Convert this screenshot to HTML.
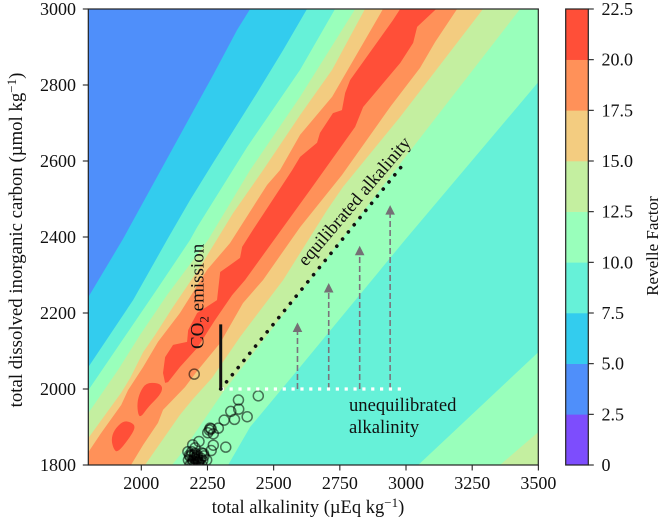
<!DOCTYPE html>
<html>
<head>
<meta charset="utf-8">
<title>Revelle Factor contour chart</title>
<style>
html,body{margin:0;padding:0;background:#fff;}
body{width:663px;height:517px;overflow:hidden;}
svg{display:block;}
text{font-family:"Liberation Serif",serif;fill:#111;}
</style>
</head>
<body>
<svg id="chart" xmlns="http://www.w3.org/2000/svg" width="663" height="517" viewBox="0 0 663 517">
  <defs>
    <clipPath id="plot-clip"><rect x="88.3" y="9" width="450" height="456"></rect></clipPath>
  </defs>
  <g id="contours" clip-path="url(#plot-clip)"></g>
  <g id="points" clip-path="url(#plot-clip)"></g>
  <g id="annotations"></g>
  <rect x="88.3" y="9" width="450" height="456" fill="none" stroke="#222" stroke-width="1.2"></rect>
  <g id="x-ticks"></g>
  <g id="y-ticks"></g>
  <g id="colorbar"></g>
  <text x="308" y="513" font-size="18.5" text-anchor="middle">total alkalinity (µEq kg<tspan dy="-6" font-size="13">−1</tspan><tspan dy="6">)</tspan></text>
  <text transform="translate(22,240) rotate(-90)" font-size="18.8" text-anchor="middle">total dissolved inorganic carbon (µmol kg<tspan dy="-6" font-size="13">−1</tspan><tspan dy="6">)</tspan></text>
  <text transform="translate(658,246) rotate(-90)" font-size="17" text-anchor="middle">Revelle Factor</text>
  <text transform="translate(203.5,349) rotate(-90)" font-size="19">CO<tspan dy="5" font-size="13">2</tspan><tspan dy="-5"> emission</tspan></text>
  <text transform="translate(306,267) rotate(-49.5)" font-size="18.5" id="eq-label">equilibrated alkalinity</text>
  <text font-size="18.6"><tspan x="349" y="411">unequilibrated</tspan><tspan x="349" y="433">alkalinity</tspan></text>
</svg>
<script>
// ---- chart data (total alkalinity, dissolved inorganic carbon) ----
var xTickLabels = [2000, 2250, 2500, 2750, 3000, 3250, 3500];
var yTickLabels = [1800, 2000, 2200, 2400, 2600, 2800, 3000];
var colorbarLevels = [0, 2.5, 5, 7.5, 10, 12.5, 15, 17.5, 20, 22.5];
var colorbarLabels = ["0", "2.5", "5.0", "7.5", "10.0", "12.5", "15.0", "17.5", "20.0", "22.5"];

// Contour boundaries, rising side of the ridge
var edge2p5to5 = [[2411,3000],[2362,2945],[2271,2826],[2184,2716],[1931,2395],[1800,2242],[1800,1800]];
var edge5to7p5 = [[2626,3000],[2536,2892],[2437,2779],[2271,2595],[2184,2497],[2101,2397],[1969,2234],[1800,2058],[1800,1800]];
var edge7p5to10 = [[2732,3000],[2600,2840],[2400,2637],[2211,2426],[2184,2392],[2060,2263],[1800,1997],[1800,1800]];
var edge10to12p5 = [[2808,3000],[2600,2769],[2411,2576],[2252,2392],[2097,2247],[1995,2142],[1912,2050],[1800,1937],[1800,1800]];
var edge12p5to15 = [[2845,3000],[2721,2840],[2600,2721],[2460,2576],[2347,2463],[2222,2321],[2120,2216],[2052,2142],[2007,2097],[1958,2029],[1924,1990],[1800,1871],[1800,1800]];
var edge15to17p5 = [[2913,3000],[2721,2769],[2600,2669],[2524,2576],[2475,2537],[2335,2384],[2248,2313],[2146,2200],[2063,2124],[2007,2058],[1950,1997],[1924,1958],[1848,1884],[1800,1834],[1800,1800]];

// Peak regions above 20
var peakMain = [[2978,3000],[2951,2971],[2789,2813],[2770,2779],[2758,2734],[2724,2726],[2675,2674],[2664,2648],[2600,2611],[2570,2576],[2422,2419],[2381,2374],[2373,2345],[2335,2326],[2298,2308],[2286,2234],[2211,2200],[2177,2155],[2173,2124],[2120,2116],[2090,2084],[2082,2042],[2090,2016],[2101,2018],[2146,2058],[2211,2108],[2279,2182],[2343,2247],[2392,2287],[2638,2524],[2808,2690],[2838,2742],[2978,2858],[3027,2911],[3042,2953],[3114,3000]];
var peakMiddle = [[1988,1932],[1984,1963],[1995,1992],[2018,2016],[2063,2016],[2082,2005],[2071,1984],[2026,1953],[1999,1926]];
var peakLow = [[1886,1866],[1897,1892],[1931,1916],[1961,1913],[1980,1900],[1950,1866],[1912,1834],[1897,1839]];

// Contour boundaries, falling side of the ridge
var edge20to17p5 = [[3193,3000],[3110,2913],[3053,2845],[2940,2742],[2758,2563],[2600,2426],[2460,2287],[2384,2226],[2298,2121],[2214,2050],[2165,2005],[2082,1945],[2063,1911],[2007,1853],[1961,1800]];
var edge17p5to15 = [[3291,3000],[2978,2716],[2762,2532],[2702,2471],[2638,2400],[2536,2287],[2373,2137],[2267,2029],[2192,1971],[2146,1932],[2014,1800]];
var edge15to12p5 = [[3431,3000],[3027,2637],[2309,1992],[2146,1826],[2116,1800]];
var edge12p5to10 = [[3500,2808],[2996,2392],[2600,2058],[2411,1900],[2328,1800]];
var edge10to12p5Low = [[3500,2097],[3046,1800]];
var edge12p5to15Low = [[3500,1887],[3355,1800]];

// Observations
var obsAlkalinity = [2200,2442,2367,2368,2338,2400,2352,2313,2291,2260,2257,2264,2251,2272,2319,2272,2218,2264,2194,2176,2203,2228,2184,2210,2247,2237,2197,2216,2178,2203,2191,2222,2203,2184,2228,2214,2199,2207,2192,2218,2211,2190,2200,2212,2225,2235,2195,2205,2215,2182,2232];
var obsDic = [2039,1982,1971,1947,1941,1927,1920,1918,1897,1897,1892,1895,1885,1882,1847,1852,1862,1838,1853,1835,1845,1832,1822,1822,1813,1824,1809,1809,1813,1831,1835,1813,1800,1800,1800,1795,1818,1808,1805,1803,1816,1826,1826,1826,1818,1830,1812,1815,1806,1826,1812];

// Annotation values
var arrowAlkalinity = [2590, 2708, 2825, 2940];
var arrowDicTop = [2175, 2279, 2377, 2484];
var arrowDicBase = 2000;
var emissionAlkalinity = 2300;
var emissionDic = [2000, 2170];
var equilibratedAlkalinity = [2300, 3000];
var equilibratedDic = [2000, 2600];
var unequilibratedAlkalinity = [2300, 3000];
var unequilibratedDic = [2000, 2000];

// ---- axis functions ----
function xAxis(a){ return 141.3 + (a - 2000) * 0.26471; }
function yAxis(d){ return 465 - (d - 1800) * 0.38; }
function cbAxis(v){ return 465 - v * (456 / 22.5); }

var NS = "http://www.w3.org/2000/svg";
function mk(tag, attrs, parent){
  var el = document.createElementNS(NS, tag);
  for (var k in attrs) el.setAttribute(k, attrs[k]);
  parent.appendChild(el);
  return el;
}

var cBlue = "#4f8ffa", cCyan = "#33ccee", cTeal = "#66f1d8", cMint = "#99ffbb",
    cLime = "#c4efa0", cTan = "#f3cc80", cOrange = "#ff9159", cRed = "#ff4f38", cPurple = "#7d4dfd";
var bandColors = [cPurple, cBlue, cCyan, cTeal, cMint, cLime, cTan, cOrange, cRed];

var contours = document.getElementById("contours");

function polyPath(points){
  var s = "";
  for (var i = 0; i < points.length; i++){
    s += (i ? "L" : "M") + xAxis(points[i][0]).toFixed(2) + " " + yAxis(points[i][1]).toFixed(2);
  }
  return s + "Z";
}
function smoothPath(points){
  var n = points.length, s = "";
  for (var i = 0; i < n; i++){
    var p = points[i], q = points[(i + 1) % n];
    var mx = (xAxis(p[0]) + xAxis(q[0])) / 2, my = (yAxis(p[1]) + yAxis(q[1])) / 2;
    if (i === 0){
      var l = points[n - 1];
      s += "M" + ((xAxis(l[0]) + xAxis(p[0])) / 2).toFixed(2) + " " + ((yAxis(l[1]) + yAxis(p[1])) / 2).toFixed(2);
    }
    s += "Q" + xAxis(p[0]).toFixed(2) + " " + yAxis(p[1]).toFixed(2) + " " + mx.toFixed(2) + " " + my.toFixed(2);
  }
  return s + "Z";
}
function toLowerRight(edge){
  return edge.concat([[3500, 1800], [3500, 3000]]);
}
function addBand(d, color, name){
  var el = mk("path", {d: d, fill: color}, contours);
  
  
}

var base = mk("rect", {x: 88.3, y: 9, width: 450, height: 456, fill: cBlue}, contours);



addBand(polyPath(toLowerRight(edge2p5to5)), cCyan, "contour-band-5-rising");
addBand(polyPath(toLowerRight(edge5to7p5)), cTeal, "contour-band-7-5-rising");
addBand(polyPath(toLowerRight(edge7p5to10)), cMint, "contour-band-10-rising");
addBand(polyPath(toLowerRight(edge10to12p5)), cLime, "contour-band-12-5-rising");
addBand(polyPath(toLowerRight(edge12p5to15)), cTan, "contour-band-15-rising");
addBand(polyPath(toLowerRight(edge15to17p5)), cOrange, "contour-band-17-5-rising");
addBand(polyPath(peakMain), cRed, "contour-peak-main");
addBand(smoothPath(peakMiddle), cRed, "contour-peak-middle");
addBand(smoothPath(peakLow), cRed, "contour-peak-low");
addBand(polyPath(toLowerRight(edge20to17p5)), cTan, "contour-band-15-falling");
addBand(polyPath(toLowerRight(edge17p5to15)), cLime, "contour-band-12-5-falling");
addBand(polyPath(toLowerRight(edge15to12p5)), cMint, "contour-band-10-falling");
addBand(polyPath(toLowerRight(edge12p5to10)), cTeal, "contour-band-7-5-falling");
addBand(polyPath(toLowerRight(edge10to12p5Low)), cMint, "contour-band-10-corner");
addBand(polyPath(toLowerRight(edge12p5to15Low)), cLime, "contour-band-12-5-corner");

// observations
var pointsGroup = document.getElementById("points");
for (var i = 0; i < obsAlkalinity.length; i++){
  var pt = mk("circle", {cx: xAxis(obsAlkalinity[i]).toFixed(2), cy: yAxis(obsDic[i]).toFixed(2), r: 5, fill: "none", stroke: "#000", "stroke-width": 1.5, "stroke-opacity": 0.55}, pointsGroup);
  
  
}

// annotations
var ann = document.getElementById("annotations");
for (var j = 0; j < arrowAlkalinity.length; j++){
  var ax = xAxis(arrowAlkalinity[j]), tip = yAxis(arrowDicTop[j]), bs = yAxis(arrowDicBase);
  var shaft = mk("line", {x1: ax, y1: bs, x2: ax, y2: tip + 9, stroke: "#7b737b", "stroke-width": 1.6, "stroke-dasharray": "6 3"}, ann);
  
  
  var head = mk("polygon", {points: ax + "," + tip + " " + (ax + 4.8) + "," + (tip + 9.5) + " " + (ax - 4.8) + "," + (tip + 9.5), fill: "#757075"}, ann);
  
  
}
var whiteLine = mk("line", {x1: xAxis(unequilibratedAlkalinity[0]), y1: yAxis(unequilibratedDic[0]), x2: xAxis(unequilibratedAlkalinity[1]), y2: yAxis(unequilibratedDic[1]), stroke: "#fff", "stroke-width": 3.2, "stroke-dasharray": "3.2 5.65"}, ann);


var dotLine = mk("line", {x1: xAxis(equilibratedAlkalinity[0]), y1: yAxis(equilibratedDic[0]), x2: xAxis(equilibratedAlkalinity[1]), y2: yAxis(equilibratedDic[1]), stroke: "#111", "stroke-width": 3.6, "stroke-linecap": "round", "stroke-dasharray": "0.1 9.1"}, ann);


var co2Line = mk("line", {x1: xAxis(emissionAlkalinity), y1: yAxis(emissionDic[0]) + 1, x2: xAxis(emissionAlkalinity), y2: yAxis(emissionDic[1]), stroke: "#111", "stroke-width": 3}, ann);



// x ticks
var xg = document.getElementById("x-ticks");
for (var a = 0; a < xTickLabels.length; a++){
  var xp = xAxis(xTickLabels[a]);
  var xt = mk("line", {x1: xp, y1: 465, x2: xp, y2: 470.5, stroke: "#222", "stroke-width": 1.1}, xg);
  
  
  var xl = mk("text", {x: xp, y: 489, "font-size": 18, "text-anchor": "middle"}, xg);
  xl.textContent = xTickLabels[a];
  
  
}

// y ticks
var yg = document.getElementById("y-ticks");
for (var b = 0; b < yTickLabels.length; b++){
  var yp = yAxis(yTickLabels[b]);
  var yt = mk("line", {x1: 88.3, y1: yp, x2: 82.8, y2: yp, stroke: "#222", "stroke-width": 1.1}, yg);
  
  
  var yl = mk("text", {x: 76, y: yp + 6, "font-size": 18, "text-anchor": "end"}, yg);
  yl.textContent = yTickLabels[b];
  
  
}

// colorbar
var cb = document.getElementById("colorbar");
for (var c = 0; c < bandColors.length; c++){
  var segTop = cbAxis(colorbarLevels[c + 1]), segBottom = cbAxis(colorbarLevels[c]);
  var seg = mk("rect", {x: 565.7, y: segTop, width: 22.6, height: segBottom - segTop + 0.3, fill: bandColors[c]}, cb);
  
  
}
var cbFrame = mk("rect", {x: 565.7, y: 9, width: 22.6, height: 456, fill: "none", stroke: "#222", "stroke-width": 1.2}, cb);


for (var e = 0; e < colorbarLevels.length; e++){
  var cbY = cbAxis(colorbarLevels[e]);
  var ct = mk("line", {x1: 588.3, y1: cbY, x2: 593.8, y2: cbY, stroke: "#222", "stroke-width": 1.1}, cb);
  
  
  var cl = mk("text", {x: 601.5, y: cbY + 6, "font-size": 18}, cb);
  cl.textContent = colorbarLabels[e];
  
  
}
</script>
</body>
</html>
